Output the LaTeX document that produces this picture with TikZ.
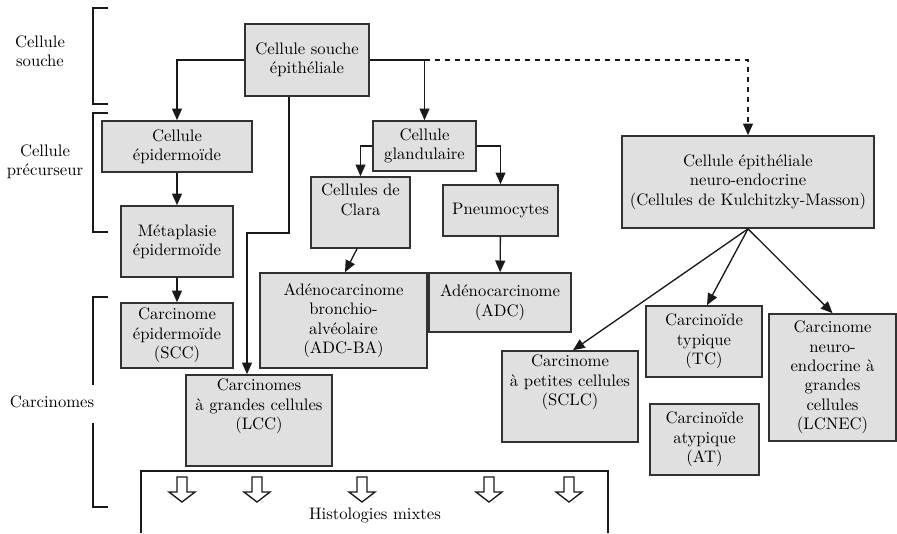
\documentclass[tikz,border=0pt]{standalone}
\usepackage{tikz}
\usepackage{xcolor}
\usetikzlibrary{calc}
\usetikzlibrary{arrows.meta}
\usetikzlibrary{shapes}

\definecolor{boxgray}{RGB}{224,224,224}
\definecolor{edgegray}{RGB}{50,50,50}

\begin{document}
\begin{tikzpicture}
    [x=0.6pt, y=-0.6pt,
    cell/.style={rectangle, draw=edgegray, fill=boxgray, line width=1pt, align=center, inner sep=1pt,
        font=\fontsize{10}{11.6}\selectfont},
    link/.style={draw=black!90, line width=0.8pt, -{Triangle[length=7pt,width=6pt]}},
    brace/.style={draw=black!90, line width=0.8pt},
    side/.style={align=center, font=\fontsize{10}{11.6}\selectfont}]
    \useasboundingbox (0,0) rectangle (897,533);

    % level labels and brackets
    \node(lsouche)[side] at (40,51) {Cellule\\souche};
    \node(lprec)[side] at (45,162) {Cellule\\pr\'ecurseur};
    \node(lcarc)[side] at (52,402) {Carcinomes};
    \draw[brace] (108,8) -- (93,8) -- (93,104) -- (108,104);
    \draw[brace] (108,113) -- (93,113) -- (93,232) -- (108,232);
    \draw[brace] (108,297) -- (93,297) -- (93,385);
    \draw[brace] (93,423) -- (93,507) -- (108,507);

    % boxes
    \node(souche)[cell, minimum width=74.4pt, minimum height=43.2pt] at (307,60) {Cellule souche\\\'epith\'eliale};
    \node(epid)[cell, minimum width=90pt, minimum height=30.6pt] at (177,146.5) {Cellule\\\'epidermo\"ide};
    \node(meta)[cell, minimum width=67.2pt, minimum height=42.6pt] at (177,241.5) {M\'etaplasie\\\'epidermo\"ide};
    \node(scc)[cell, minimum width=67.2pt, minimum height=39pt] at (177,335.5) {Carcinome\\\'epidermo\"ide\\(SCC)};
    \node(lcc)[cell, minimum width=87.6pt, minimum height=54.6pt] at (259,420.5) {Carcinomes\\\`a grandes cellules\\(LCC)\\[8pt]};
    \node(glan)[cell, minimum width=61.8pt, minimum height=30pt] at (424.5,146) {Cellule\\glandulaire};
    \node(clara)[cell, minimum width=59.4pt, minimum height=42.6pt] at (360.5,212.5) {Cellules de\\Clara\\[4pt]};
    \node(pneu)[cell, minimum width=69pt, minimum height=30.6pt] at (500.5,210.5) {Pneumocytes};
    \node(adcba)[cell, minimum width=100.2pt, minimum height=57pt] at (343.5,320.5) {Ad\'enocarcinome\\bronchio-\\alv\'eolaire\\(ADC-BA)};
    \node(adc)[cell, minimum width=85.2pt, minimum height=35.4pt] at (500,302.5) {Ad\'enocarcinome\\(ADC)};
    \node(neuro)[cell, minimum width=151.2pt, minimum height=55.2pt] at (748,182) {Cellule \'epith\'eliale\\neuro-endocrine\\(Cellules de Kulchitzky-Masson)};
    \node(sclc)[cell, minimum width=81.6pt, minimum height=54.6pt] at (570,396.5) {Carcinome\\\`a petites cellules\\(SCLC)\\[8pt]};
    \node(tc)[cell, minimum width=69.6pt, minimum height=42.6pt] at (704,341.5) {Carcino\"ide\\typique\\(TC)};
    \node(at)[cell, minimum width=65.4pt, minimum height=42.6pt] at (704.5,439.5) {Carcino\"ide\\atypique\\(AT)};
    \node(lcnec)[cell, minimum width=76.2pt, minimum height=76.2pt] at (832.5,377.5) {Carcinome\\neuro-\\endocrine \`a\\grandes\\cellules\\(LCNEC)};

    % connectors
    \draw[link] (souche.west) -| (epid.north);
    \draw[link] (souche.east) -| (glan.north);
    \draw[link, dashed] (glan.north |- souche.east) -| (neuro.north);
    \draw[link] ([xshift=-10.8pt]souche.south) -- ++(0,136) -| ([xshift=-7.2pt]lcc.north);
    \draw[link] (epid) -- (meta);
    \draw[link] (meta) -- (scc);
    \draw[link] (glan.west) -| (clara.north);
    \draw[link] (glan.east) -| (pneu.north);
    \draw[link] ([xshift=-2.1pt]clara.south) -- ([xshift=0.9pt]adcba.north);
    \draw[link] (pneu) -- (adc);
    \draw[link] (neuro.south) -- ([xshift=1.8pt]sclc.north);
    \draw[link] (neuro.south) -- ([xshift=1.8pt]tc.north);
    \draw[link] (neuro.south) -- (lcnec.north);

    % mixed histologies
    \draw[brace] (141,533) -- (141,471) -- (608,471) -- (608,533);
    \foreach \x in {182,257,362,489,569}{
        \draw[brace, fill=white] (\x-5,477) -- (\x+5,477) -- (\x+5,492) -- (\x+13,492) -- (\x,502) -- (\x-13,492) -- (\x-5,492) -- cycle;
    }
    \node(mixtes)[side] at (375,515) {Histologies mixtes};
\end{tikzpicture}
\end{document}
